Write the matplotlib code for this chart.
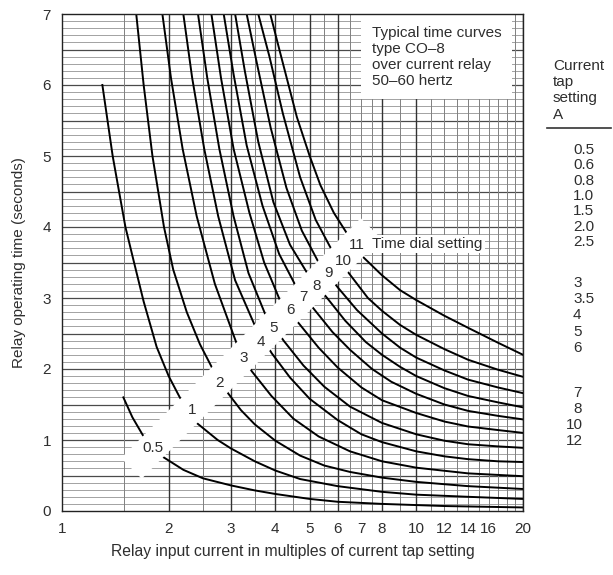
import numpy as np
import matplotlib
matplotlib.use('Agg')
import matplotlib.pyplot as plt

plt.rcParams['font.family'] = ['Liberation Sans', 'DejaVu Sans']

# time dial settings and the curves (x = multiples of tap, t = seconds)
dials = ['0.5', '1', '2', '3', '4', '5', '6', '7', '8', '9', '10', '11']

x_05 = [1.49, 1.58, 1.69, 1.81, 1.93, 2.2, 2.5, 3, 3.5, 4, 5, 6, 8, 12, 20]
t_05 = [1.60, 1.32, 1.07, 0.90, 0.76, 0.58, 0.46, 0.36, 0.29, 0.24, 0.17, 0.13, 0.10, 0.07, 0.05]
x_1 = [1.30, 1.39, 1.51, 1.59, 1.70, 1.85, 2.0, 2.15, 2.40, 2.75, 3, 3.5, 4, 4.7, 6, 8, 10, 14, 20]
t_1 = [6.0, 5.0, 4.0, 3.54, 2.95, 2.31, 1.90, 1.60, 1.24, 1.00, 0.88, 0.70, 0.57, 0.45, 0.35, 0.27, 0.23, 0.20, 0.17]
x_2 = [1.62, 1.70, 1.80, 1.94, 2.06, 2.25, 2.45, 2.65, 2.94, 3.2, 3.5, 4, 4.7, 5.5, 6.5, 8, 10, 14, 20]
t_2 = [7.0, 6.0, 5.0, 4.0, 3.4, 2.8, 2.35, 2.02, 1.66, 1.42, 1.22, 0.99, 0.78, 0.64, 0.55, 0.47, 0.41, 0.35, 0.31]
x_3 = [1.92, 2.03, 2.19, 2.40, 2.70, 3.11, 3.43, 3.9, 4.5, 5.3, 6.5, 8, 10, 14, 20]
t_3 = [7.0, 6.1, 5.1, 4.15, 3.2, 2.36, 1.97, 1.62, 1.30, 1.05, 0.84, 0.70, 0.61, 0.53, 0.49]
x_4 = [2.20, 2.33, 2.52, 2.76, 3.08, 3.51, 3.91, 4.4, 5, 6, 7, 8, 10, 12, 14, 17, 20]
t_4 = [7.0, 6.1, 5.1, 4.15, 3.25, 2.60, 2.22, 1.88, 1.58, 1.28, 1.08, 0.97, 0.84, 0.77, 0.73, 0.70, 0.69]
x_5 = [2.42, 2.57, 2.78, 3.05, 3.36, 3.74, 4.22, 4.8, 5.5, 6.5, 8, 10, 12, 14, 17, 20]
t_5 = [7.0, 6.1, 5.1, 4.15, 3.35, 2.78, 2.40, 2.05, 1.75, 1.47, 1.24, 1.08, 0.99, 0.94, 0.91, 0.89]
x_6 = [2.64, 2.81, 3.05, 3.38, 3.72, 4.12, 4.70, 5.3, 6, 7, 8, 10, 12, 14, 17, 20]
t_6 = [7.0, 6.1, 5.1, 4.2, 3.5, 2.97, 2.62, 2.30, 2.02, 1.74, 1.56, 1.38, 1.26, 1.19, 1.14, 1.10]
x_7 = [2.86, 3.05, 3.32, 3.68, 4.1, 4.6, 5.13, 5.8, 6.5, 7.5, 8.5, 10, 12, 14, 17, 20]
t_7 = [7.0, 6.15, 5.15, 4.3, 3.62, 3.14, 2.85, 2.52, 2.27, 2.00, 1.82, 1.65, 1.50, 1.41, 1.34, 1.29]
x_8 = [3.08, 3.28, 3.58, 3.95, 4.4, 4.95, 5.6, 6.3, 7.2, 8, 9, 10, 12, 14, 17, 20]
t_8 = [7.0, 6.2, 5.2, 4.35, 3.75, 3.33, 3.00, 2.68, 2.38, 2.20, 2.03, 1.90, 1.73, 1.62, 1.53, 1.46]
x_9 = [3.32, 3.55, 3.88, 4.3, 4.75, 5.3, 6.0, 6.8, 8, 9, 10, 12, 14, 17, 20]
t_9 = [7.0, 6.3, 5.4, 4.55, 3.95, 3.50, 3.15, 2.83, 2.50, 2.30, 2.16, 1.98, 1.85, 1.74, 1.66]
x_10 = [3.58, 3.85, 4.2, 4.7, 5.2, 5.71, 6.45, 7.3, 8, 9, 10, 12, 14, 17, 20]
t_10 = [7.0, 6.4, 5.6, 4.7, 4.1, 3.72, 3.35, 3.00, 2.82, 2.62, 2.48, 2.28, 2.13, 1.99, 1.89]
x_11 = [3.87, 4.13, 4.6, 5.0, 5.36, 5.85, 6.37, 7.1, 8, 9, 10, 12, 14, 17, 20]
t_11 = [7.0, 6.45, 5.55, 5.0, 4.59, 4.20, 3.91, 3.57, 3.32, 3.11, 2.97, 2.75, 2.58, 2.37, 2.20]

curves_x = [x_05, x_1, x_2, x_3, x_4, x_5, x_6, x_7, x_8, x_9, x_10, x_11]
curves_t = [t_05, t_1, t_2, t_3, t_4, t_5, t_6, t_7, t_8, t_9, t_10, t_11]

# where the dial numbers sit along the white band
label_x = [1.81, 2.33, 2.78, 3.25, 3.65, 3.95, 4.41, 4.80, 5.22, 5.64, 6.22, 6.81]
label_y = [0.89, 1.42, 1.80, 2.15, 2.38, 2.58, 2.83, 3.01, 3.17, 3.35, 3.52, 3.75]

x_ticks = [1, 2, 3, 4, 5, 6, 7, 8, 10, 12, 14, 16, 20]
y_ticks = [0, 1, 2, 3, 4, 5, 6, 7]
grid_major_x = [2, 3, 4, 5, 6, 8, 10, 20]
grid_minor_x = [1.5, 2.5, 3.5, 4.5, 5.5, 6.5, 7, 7.5, 9, 11, 12, 13, 14, 15, 16, 17, 18, 19]

tap_top = ['0.5', '0.6', '0.8', '1.0', '1.5', '2.0', '2.5']
tap_mid = ['3', '3.5', '4', '5', '6']
tap_low = ['7', '8', '10', '12']

txt = '#2e2e2e'
fs = 11

fig = plt.figure(figsize=(6.13, 5.75), dpi=100)
ax = fig.add_axes([62 / 613, 64 / 575, 461 / 613, 497 / 575])
ax.set_xscale('log')
ax.set_xlim(1, 20)
ax.set_ylim(0, 7)

# graph paper
for v in np.arange(0.1, 7.0, 0.1):
    v = round(v, 1)
    if abs(v * 2 - round(v * 2)) < 1e-6:
        ax.axhline(v, color='#4a4a4a', lw=0.9, zorder=1)
    else:
        ax.axhline(v, color='#a2a2a2', lw=0.7, zorder=1)
for v in grid_minor_x:
    ax.axvline(v, color='#808080', lw=0.7, zorder=1)
for v in grid_major_x:
    ax.axvline(v, color='#333333', lw=1.0, zorder=1)

for xs, ts in zip(curves_x, curves_t):
    ax.plot(xs, ts, color='black', lw=1.4, zorder=2)

# white band carrying the dial numbers
ax.plot([1.57, 7.45], [0.60, 3.98], color='white', lw=21, solid_capstyle='butt', zorder=3)
for lab, lx, ly in zip(dials, label_x, label_y):
    ax.text(lx, ly, lab, fontsize=fs, color=txt, ha='center', va='center', zorder=4)

ax.text(7.5, 3.76, 'Time dial setting', fontsize=fs, color=txt, ha='left', va='center',
        zorder=5, bbox=dict(facecolor='white', edgecolor='none', boxstyle='square,pad=0.15'))
ax.text(7.5, 6.83, 'Typical time curves\ntype CO\u20138\nover current relay\n50\u201360 hertz',
        fontsize=fs, color=txt, ha='left', va='top', linespacing=1.18, zorder=5,
        bbox=dict(facecolor='white', edgecolor='none', boxstyle='square,pad=0.7'))

ax.set_xticks(x_ticks)
ax.set_xticklabels([str(v) for v in x_ticks])
ax.set_xticks([], minor=True)
ax.set_yticks(y_ticks)
ax.tick_params(length=0, labelsize=fs, labelcolor=txt, pad=8)
for s in ax.spines.values():
    s.set_color('#222222')
    s.set_linewidth(1.0)
    s.set_zorder(6)

ax.set_xlabel('Relay input current in multiples of current tap setting', fontsize=11.3,
              color=txt, labelpad=6)
ax.set_ylabel('Relay operating time (seconds)', fontsize=fs, color=txt, labelpad=12)

# tap setting column on the right
fig.text(553 / 613, 1 - 59 / 575, 'Current\ntap\nsetting\nA', fontsize=fs, color=txt,
         ha='left', va='top', linespacing=1.2)
fig.add_artist(plt.Line2D([547 / 613, 611 / 613], [1 - 128 / 575, 1 - 128 / 575],
                          color='#333333', lw=1.2))
groups = [(tap_top, 150, 15.3), (tap_mid, 283, 16.2), (tap_low, 393, 16.1)]
for vals, y0, step in groups:
    for i, s in enumerate(vals):
        xx = 573 if len(s.split('.')[0]) == 1 else 566
        fig.text(xx / 613, 1 - (y0 + i * step) / 575, s, fontsize=fs, color=txt,
                 ha='left', va='center')

fig.savefig('out.png', dpi=100)
